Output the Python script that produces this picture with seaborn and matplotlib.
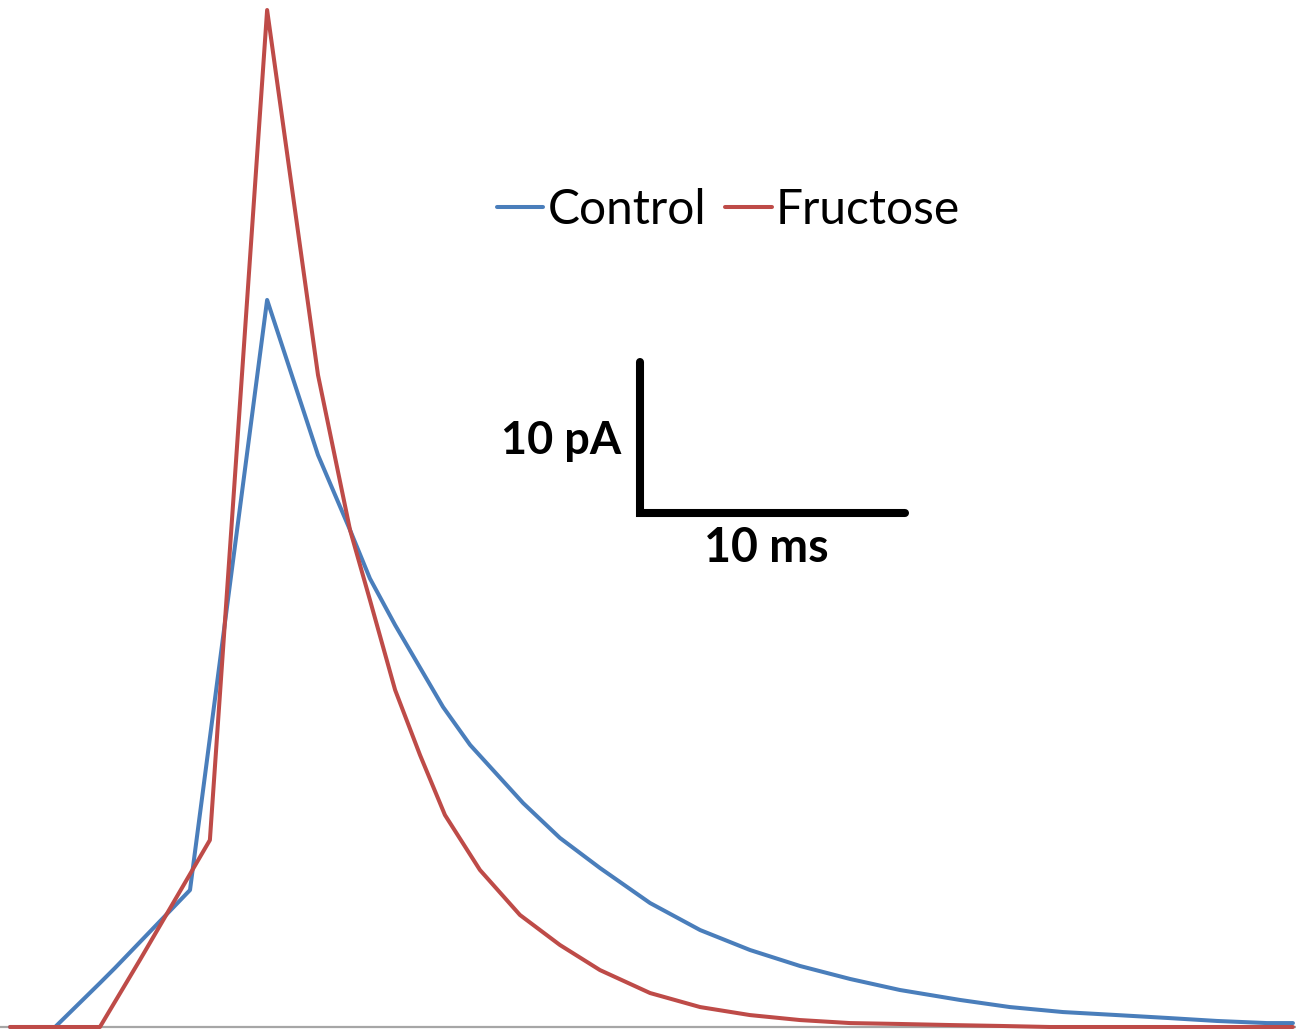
import numpy as np
import pandas as pd
import matplotlib
matplotlib.use("Agg")
import matplotlib.pyplot as plt
import seaborn as sns

# Averaged synaptic current traces (time in ms, current in pA)
control_time = [0.38, 2.08, 3.77, 4.34, 7.17, 10.08, 12.00, 13.21, 13.96, 14.91, 16.72,
                17.74, 19.74, 21.13, 22.64, 24.53, 26.42, 28.30, 30.19, 32.08,
                33.96, 36.23, 38.11, 40.11, 42.15, 44.04, 45.92, 47.81, 48.79]
control_current = [0.0, 0.0, 2.91, 3.91, 9.07, 48.15, 37.88, 32.91, 29.70, 26.62, 21.19,
                   18.68, 14.83, 12.52, 10.53, 8.21, 6.42, 5.10, 4.04, 3.18,
                   2.45, 1.79, 1.32, 0.99, 0.79, 0.60, 0.40, 0.26, 0.26]

fructose_time = [0.38, 3.77, 5.28, 7.92, 10.08, 12.00, 13.21, 13.96, 14.91, 15.85,
                 16.79, 18.11, 19.62, 21.13, 22.64, 24.53, 26.42, 28.30, 30.19,
                 32.08, 33.96, 35.85, 37.74, 39.62, 48.79]
fructose_current = [0.0, 0.0, 4.44, 12.38, 67.35, 43.18, 32.91, 28.28, 22.32, 18.01,
                    14.04, 10.40, 7.42, 5.43, 3.77, 2.25, 1.32, 0.79, 0.46,
                    0.26, 0.20, 0.13, 0.07, 0.0, 0.0]

groups = ["Control", "Fructose"]
colors = {"Control": "#4A7EBB", "Fructose": "#BE4B48"}

# Scale bar sizes
bar_ms = 10
bar_pa = 10
bar_origin = (24.15, 34.04)

df = pd.concat([
    pd.DataFrame({"time": control_time, "current": control_current, "group": groups[0]}),
    pd.DataFrame({"time": fructose_time, "current": fructose_current, "group": groups[1]}),
], ignore_index=True)

sns.set_theme(style="white")
plt.rcParams["font.family"] = ["Lato", "DejaVu Sans"]
plt.rcParams["text.color"] = "black"

fig = plt.figure(figsize=(12.96, 10.29), dpi=100)
ax = fig.add_axes([0, 2 / 1029, 1, 1027 / 1029])

sns.lineplot(data=df, x="time", y="current", hue="group", hue_order=groups,
             palette=colors, estimator=None, sort=False, linewidth=2.9,
             ax=ax, clip_on=False)

ax.set_xlim(0, 1296 / 26.5)
ax.set_ylim(0, 1027 / 15.1)
ax.set_xticks([])
ax.set_yticks([])
ax.set_xlabel("")
ax.set_ylabel("")
for side in ["left", "top", "right"]:
    ax.spines[side].set_visible(False)
ax.spines["bottom"].set_color("#a6a6a6")
ax.spines["bottom"].set_linewidth(1.6)
ax.spines["bottom"].set_zorder(0)

# Scale bar
x0, y0 = bar_origin
ax.plot([x0, x0, x0 + bar_ms], [y0 + bar_pa, y0, y0], color="black",
        linewidth=5.8, solid_capstyle="round", solid_joinstyle="miter")
ax.text(x0 - 0.7, y0 + bar_pa / 2 - 0.2, f"{bar_pa} pA", ha="right", va="center",
        fontsize=32.5, fontweight="bold", color="black")
ax.text(x0 + bar_ms / 2 - 0.25, y0 - 2.3, f"{bar_ms} ms", ha="center", va="center",
        fontsize=33.5, fontweight="bold", color="black")

leg = ax.legend(loc="center", bbox_to_anchor=(0.562, 0.796), bbox_transform=fig.transFigure,
                ncol=2, frameon=False, fontsize=34.5, handlelength=0.98,
                handletextpad=0.08, columnspacing=0.4, borderaxespad=0)
for line in leg.get_lines():
    line.set_linewidth(2.9)
for txt in leg.get_texts():
    txt.set_color("black")

fig.savefig("out.png", dpi=100, facecolor="white")
